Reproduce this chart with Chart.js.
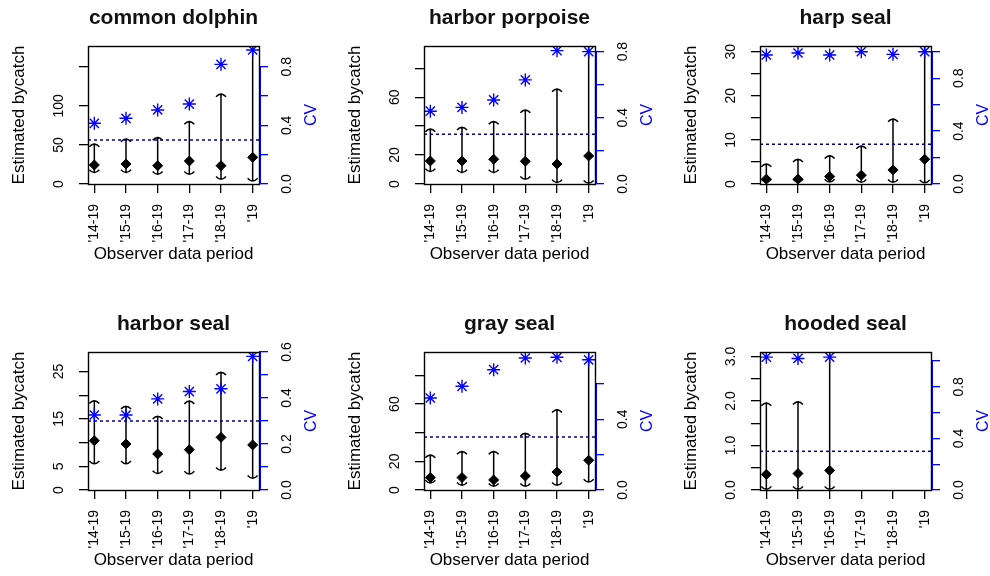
<!DOCTYPE html>
<html>
<head>
<meta charset="utf-8">
<script src="https://cdn.jsdelivr.net/npm/chart.js@4.4.1/dist/chart.umd.min.js"></script>
<style>
  body { margin: 0; background: #fff; }
  #wrap { position: relative; width: 990px; height: 576px; overflow: hidden; }
  #wrap canvas { position: absolute; }
</style>
</head>
<body>
<div id="wrap"></div>
<script>
// observer data periods (x axis)
const periods = ["'14-19", "'15-19", "'16-19", "'17-19", "'18-19", "'19"];
const cvRef = 0.3;

// common dolphin
const dolphinEst = [24.3, 25.6, 23.4, 29.4, 23.4, 34.1];
const dolphinLow = [13.6, 13.6, 11.5, 11.5, 5.1, 3];
const dolphinUp = [52, 58.4, 60.5, 81, 116, 200];
const dolphinCv = [0.414, 0.448, 0.505, 0.545, 0.816, 0.914];

// harbor porpoise
const porpoiseEst = [15.9, 15.9, 17.1, 15.7, 13.8, 19.4];
const porpoiseLow = [8.1, 7.4, 7.4, 2.8, 0.5, 0];
const porpoiseUp = [38.5, 39.7, 43.8, 51.6, 66.2, 110];
const porpoiseCv = [0.44, 0.463, 0.508, 0.629, 0.806, 0.8];

// harp seal
const harpEst = [1.1, 1.1, 1.7, 2.0, 3.2, 5.6];
const harpLow = [0.3, 0.3, 0.3, 0.2, 0.2, 0.1];
const harpUp = [4.7, 5.8, 6.6, 8.8, 14.9, 35];
const harpCv = [0.975, 0.99, 0.975, 1.0, 0.98, 1.0];

// harbor seal
const harborEst = [10.4, 9.7, 7.6, 8.5, 11.1, 9.5];
const harborLow = [5.4, 5.4, 3.3, 3.2, 4.0, 2.3];
const harborUp = [19.0, 17.8, 15.7, 18.9, 25.0, 32];
const harborCv = [0.326, 0.326, 0.396, 0.428, 0.44, 0.581];

// gray seal
const grayEst = [8.7, 8.7, 7.0, 9.8, 12.6, 20.8];
const grayLow = [4.4, 2.8, 2.1, 2.1, 2.8, 5.1];
const grayUp = [25.0, 27.4, 27.4, 40.2, 56.6, 110];
const grayCv = [0.52, 0.586, 0.68, 0.746, 0.75, 0.736];

// hooded seal (only the first three periods)
const hoodedEst = [0.35, 0.37, 0.44, null, null, null];
const hoodedLow = [0, 0, 0, null, null, null];
const hoodedUp = [1.97, 2.0, 4, null, null, null];
const hoodedCv = [1.03, 1.02, 1.03, null, null, null];

// tick values and labels
const ticksDolphin = [0, 50, 100, 150];
const labelsDolphin = ['0', '50', '100', ''];
const ticksBy20 = [0, 20, 40, 60, 80];
const labelsBy20 = ['0', '20', '', '60', ''];
const ticksHarp = [0, 5, 10, 15, 20, 25, 30];
const labelsHarp = ['0', '', '10', '', '20', '', '30'];
const ticksHarbor = [0, 5, 10, 15, 20, 25];
const labelsHarbor = ['0', '5', '', '15', '', '25'];
const ticksHooded = [0, 0.5, 1, 1.5, 2, 2.5, 3];
const labelsHooded = ['0.0', '', '1.0', '', '2.0', '', '3.0'];

const cvTicks08 = [0, 0.2, 0.4, 0.6, 0.8];
const cvLabels08 = ['0.0', '', '0.4', '', '0.8'];
const cvTicks10 = [0, 0.2, 0.4, 0.6, 0.8, 1.0];
const cvLabels10 = ['0.0', '', '0.4', '', '0.8', ''];
const cvTicksHarbor = [0, 0.1, 0.2, 0.3, 0.4, 0.5, 0.6];
const cvLabelsHarbor = ['0.0', '', '0.2', '', '0.4', '', '0.6'];
const cvTicksGray = [0, 0.2, 0.4, 0.6];
const cvLabelsGray = ['0.0', '', '0.4', ''];

// axis limits
const yMax = [176.5, 95.4, 31.3, 29.1, 96.4, 3.1];
const cvMax = [0.941, 0.834, 1.043, 0.6, 0.78, 1.07];

const panels = [
  { title: 'common dolphin', est: dolphinEst, low: dolphinLow, up: dolphinUp, cv: dolphinCv, yTicks: ticksDolphin, yLabels: labelsDolphin, cvTicks: cvTicks08, cvLabels: cvLabels08 },
  { title: 'harbor porpoise', est: porpoiseEst, low: porpoiseLow, up: porpoiseUp, cv: porpoiseCv, yTicks: ticksBy20, yLabels: labelsBy20, cvTicks: cvTicks08, cvLabels: cvLabels08 },
  { title: 'harp seal', est: harpEst, low: harpLow, up: harpUp, cv: harpCv, yTicks: ticksHarp, yLabels: labelsHarp, cvTicks: cvTicks10, cvLabels: cvLabels10 },
  { title: 'harbor seal', est: harborEst, low: harborLow, up: harborUp, cv: harborCv, yTicks: ticksHarbor, yLabels: labelsHarbor, cvTicks: cvTicksHarbor, cvLabels: cvLabelsHarbor },
  { title: 'gray seal', est: grayEst, low: grayLow, up: grayUp, cv: grayCv, yTicks: ticksBy20, yLabels: labelsBy20, cvTicks: cvTicksGray, cvLabels: cvLabelsGray },
  { title: 'hooded seal', est: hoodedEst, low: hoodedLow, up: hoodedUp, cv: hoodedCv, yTicks: ticksHooded, yLabels: labelsHooded, cvTicks: cvTicks10, cvLabels: cvLabels10 }
];

const FONT = '"Liberation Sans", Arial, sans-serif';
Chart.defaults.font.family = FONT;
Chart.defaults.color = '#000';

const colLeft = [0, 336, 672];
const rowTop = [0, 306];
const W = 318, H = 270;
const tickLen = 9;
const labelCenter = 28.5; // distância do eixo até o centro do rótulo
const tickFont = 14;

const meas = document.createElement('canvas').getContext('2d');
meas.font = tickFont + 'px ' + FONT;
const widest = labels => Math.max(...labels.map(t => meas.measureText(t).width));

const pts = vals => vals.map((v, i) => ({ x: i + 1, y: v })).filter(d => d.y != null);

// barras de erro + moldura + título "CV"
function panelPlugin(p) {
  return {
    id: 'panelExtras',
    beforeDatasetsDraw(chart) {
      const { ctx, chartArea: a, scales: { x, y } } = chart;
      ctx.save();
      ctx.beginPath();
      ctx.rect(a.left, a.top, a.right - a.left, a.bottom - a.top);
      ctx.clip();
      ctx.strokeStyle = '#000';
      ctx.lineWidth = 1.5;
      p.est.forEach((v, i) => {
        if (v == null) return;
        const px = x.getPixelForValue(i + 1);
        const lo = y.getPixelForValue(p.low[i]);
        const hi = y.getPixelForValue(p.up[i]);
        ctx.beginPath();
        ctx.moveTo(px, lo);
        ctx.lineTo(px, hi);
        ctx.moveTo(px - 5, hi + 3.5);
        ctx.quadraticCurveTo(px, hi - 2, px + 5, hi + 3.5);
        ctx.moveTo(px - 5, lo - 3.5);
        ctx.quadraticCurveTo(px, lo + 2, px + 5, lo - 3.5);
        ctx.stroke();
      });
      ctx.restore();
    },
    afterDraw(chart) {
      const { ctx, chartArea: a, scales: { y1 } } = chart;
      ctx.save();
      ctx.strokeStyle = '#000';
      ctx.lineWidth = 1.4;
      ctx.strokeRect(Math.round(a.left) + 0.5, Math.round(a.top) + 0.5, Math.round(a.right - a.left), Math.round(a.bottom - a.top));
      // linha do eixo CV (azul)
      ctx.strokeStyle = 'blue';
      ctx.lineWidth = 1;
      ctx.beginPath();
      ctx.moveTo(Math.round(a.right) + 1.5, y1.getPixelForValue(p.cvTicks[0]));
      ctx.lineTo(Math.round(a.right) + 1.5, y1.getPixelForValue(p.cvTicks[p.cvTicks.length - 1]));
      ctx.stroke();
      ctx.fillStyle = 'blue';
      ctx.font = '16px ' + FONT;
      ctx.textAlign = 'center';
      ctx.textBaseline = 'middle';
      ctx.translate(a.right + 53, (a.top + a.bottom) / 2);
      ctx.rotate(-Math.PI / 2);
      ctx.fillText('CV', 0, 0);
      ctx.restore();
    }
  };
}

const wrap = document.getElementById('wrap');

panels.forEach((p, k) => {
  const canvas = document.createElement('canvas');
  canvas.width = W;
  canvas.height = H;
  canvas.style.left = colLeft[k % 3] + 'px';
  canvas.style.top = rowTop[Math.floor(k / 3)] + 'px';
  wrap.appendChild(canvas);

  new Chart(canvas, {
    type: 'scatter',
    data: {
      datasets: [
        {
          label: 'Estimated bycatch',
          data: pts(p.est),
          yAxisID: 'y',
          pointStyle: 'rectRot',
          pointRadius: 5,
          backgroundColor: '#000',
          borderColor: '#000',
          borderWidth: 1
        },
        {
          label: 'CV',
          data: pts(p.cv),
          yAxisID: 'y1',
          pointStyle: 'star',
          pointRadius: 6.5,
          borderColor: 'blue',
          borderWidth: 1.4
        },
        {
          type: 'line',
          label: 'CV 0.3',
          data: [{ x: 0.8, y: cvRef }, { x: 6.2, y: cvRef }],
          yAxisID: 'y1',
          borderColor: '#00008B',
          borderWidth: 1.5,
          borderDash: [3, 3],
          pointRadius: 0
        }
      ]
    },
    options: {
      responsive: false,
      animation: false,
      layout: { padding: 0 },
      plugins: {
        legend: { display: false },
        tooltip: { enabled: false },
        title: {
          display: true,
          text: p.title,
          fullSize: false,
          color: '#111',
          font: { size: 21, weight: 'bold' },
          padding: { top: 6, bottom: 14.8 }
        }
      },
      scales: {
        x: {
          type: 'linear',
          min: 0.8,
          max: 6.2,
          afterBuildTicks: s => { s.ticks = periods.map((_, i) => ({ value: i + 1 })); },
          ticks: {
            callback: (v, i) => periods[i],
            minRotation: 90,
            maxRotation: 90,
            autoSkip: false,
            padding: 11,
            font: { size: tickFont },
            color: '#000'
          },
          grid: { drawOnChartArea: false, tickLength: tickLen, color: '#000', lineWidth: 1.3 },
          border: { display: false },
          title: { display: true, text: 'Observer data period', color: '#000', font: { size: 17 }, padding: { top: 0, bottom: 5 } },
          afterFit: s => { s.height = 86; }
        },
        y: {
          position: 'left',
          min: 0,
          max: yMax[k],
          afterBuildTicks: s => { s.ticks = p.yTicks.map(v => ({ value: v })); },
          ticks: {
            callback: (v, i) => p.yLabels[i],
            minRotation: 90,
            maxRotation: 90,
            crossAlign: 'center',
            autoSkip: false,
            padding: labelCenter - tickLen - widest(p.yLabels) / 2,
            font: { size: tickFont },
            color: '#000'
          },
          grid: { drawOnChartArea: false, tickLength: tickLen, color: '#000', lineWidth: 1.3 },
          border: { display: false },
          title: { display: true, text: 'Estimated bycatch', color: '#000', font: { size: 17 }, padding: { top: 9.5, bottom: 0 } },
          afterFit: s => { s.width = 88; }
        },
        y1: {
          position: 'right',
          min: 0,
          max: cvMax[k],
          afterBuildTicks: s => { s.ticks = p.cvTicks.map(v => ({ value: v })); },
          ticks: {
            callback: (v, i) => p.cvLabels[i],
            minRotation: 90,
            maxRotation: 90,
            crossAlign: 'center',
            autoSkip: false,
            padding: labelCenter - tickLen - widest(p.cvLabels) / 2,
            font: { size: tickFont },
            color: '#000'
          },
          grid: { drawOnChartArea: false, tickLength: tickLen, color: 'blue', lineWidth: 1.3 },
          border: { display: false },
          afterFit: s => { s.width = 59; }
        }
      }
    },
    plugins: [panelPlugin(p)]
  });
});
</script>
</body>
</html>
